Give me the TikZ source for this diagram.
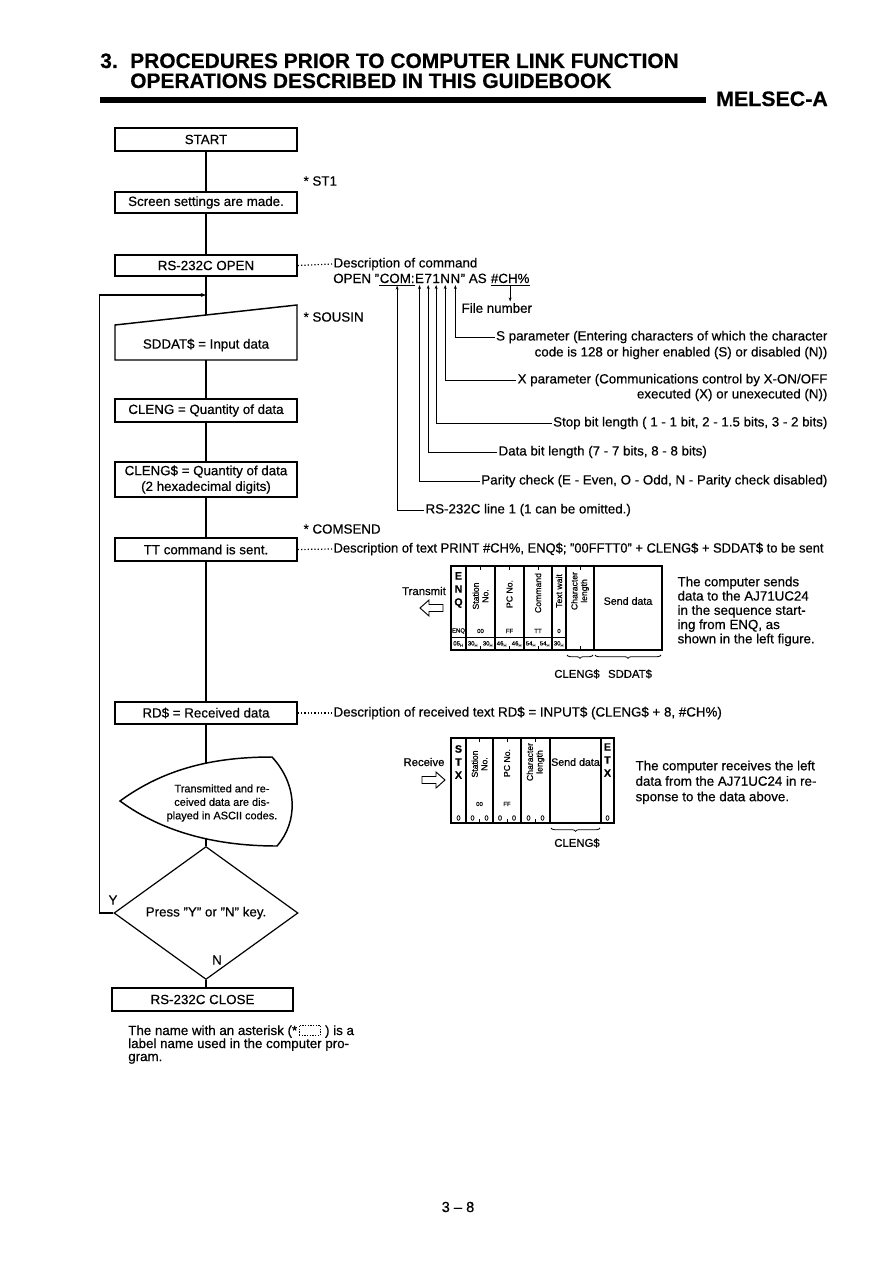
\documentclass[tikz,border=0pt]{standalone}
\usepackage{fontspec}
\setmainfont{Liberation Sans}[FakeBold=0.5]
\usetikzlibrary{arrows.meta, positioning, shapes.geometric, decorations.pathreplacing, calc}

\newcommand{\ftitle}{\fontsize{15.7}{18}\selectfont\bfseries}
\newcommand{\ften}{\fontsize{10}{12}\selectfont}
\newcommand{\fmid}{\fontsize{8.5}{10.1}\selectfont}
\newcommand{\fsm}{\fontsize{6.5}{7.2}\selectfont}
\newcommand{\fxs}{\fontsize{4.5}{5}\selectfont}
\newcommand{\dq}{\symbol{34}}

\tikzset{
  flowbox/.style={draw, line width=1.1pt, minimum width=136.5pt, inner sep=1pt, align=center, font=\ften},
  flowline/.style={line width=0.8pt},
  joinarrow/.style={line width=0.8pt, -{Stealth[length=4pt,width=3pt]}},
  leader/.style={line width=0.9pt, dash pattern=on 0.9pt off 1.6pt},
  txt/.style={inner sep=1pt, font=\ften},
  strpart/.style={inner sep=0pt, anchor=base west, font=\ften},
  notepart/.style={inner sep=0pt, anchor=base west, font=\ften},
  pick/.style={line width=0.6pt, -{Stealth[length=3pt,width=2.2pt]}},
  cell/.style={line width=0.8pt},
  tick/.style={line width=0.5pt},
  vlabel/.style={rotate=90, inner sep=0pt, align=center, font=\fsm},
  stack/.style={inner sep=0pt, align=center, font=\fontsize{8}{9.8}\selectfont\bfseries},
  tinylbl/.style={inner sep=0pt, font=\fxs},
  brc/.style={decorate, decoration={brace, mirror, amplitude=2.5pt}, line width=0.6pt},
}

\begin{document}
\begin{tikzpicture}[x=0.75pt, y=-0.75pt]
  \fill[white] (0,0) rectangle (893,1263);
  \useasboundingbox (0,0) rectangle (893,1263);

  % --- Page heading ---
  \node[anchor=base west, inner sep=0pt] (secno) at (100,68) {\ftitle 3.};
  \node[anchor=base west, inner sep=0pt] (title1) at (130,68) {\ftitle PROCEDURES PRIOR TO COMPUTER LINK FUNCTION};
  \node[anchor=base west, inner sep=0pt] (title2) at (130,88) {\ftitle OPERATIONS DESCRIBED IN THIS GUIDEBOOK};
  \fill (100,96.5) rectangle (706,103);
  \node[anchor=base west, inner sep=0pt] (melsec) at (716,106) {\ftitle\scalebox{1.02}[1]{MELSEC-A}};

  % --- Flowchart ---
  \node[flowbox, minimum height=17.25pt] (start) at (206,139.5) {START};
  \node[flowbox, minimum height=15.75pt] (screen) at (206,202.5) {Screen settings are made.};
  \node[flowbox, minimum height=15.75pt] (open) at (206,265.5) {RS-232C OPEN};

  % manual input
  \draw[line width=1.1pt] (115,325) -- (297,305) -- (297,360) -- (115,360) -- cycle;
  \node[txt] (input) at (206,345) {SDDAT\$ = Input data};
  \coordinate (intop) at (206,315);
  \coordinate (inbot) at (206,360);
  \coordinate (join) at (206,295);

  \node[flowbox, minimum height=17.25pt] (cleng) at (206,410.5) {CLENG = Quantity of data};
  \node[flowbox, minimum height=26pt, font=\fontsize{10}{11.8}\selectfont] (clengs) at (206,479.5) {CLENG\$ = Quantity of data\\(2 hexadecimal digits)};
  \node[flowbox, minimum height=17.25pt] (tt) at (206,549.5) {TT command is sent.};
  \node[flowbox, minimum height=16.5pt] (rd) at (206,713) {RD\$ = Received data};

  % display
  \draw[line width=1.1pt] (120,801) .. controls (165,768) and (215,757) .. (272,757)
    .. controls (298,785) and (298,822) .. (277,846)
    .. controls (220,846) and (165,834) .. (120,801) -- cycle;
  \node[font=\fontsize{8.2}{10.1}\selectfont, align=center, inner sep=0pt] (disp) at (222,803) {Transmitted and re-\\ceived data are dis-\\played in ASCII codes.};
  \coordinate (disptop) at (206,763);
  \coordinate (dispbot) at (206,839);

  \node[draw, diamond, line width=0.9pt, minimum width=138pt, minimum height=45pt, inner sep=0pt, font=\ften] (dec) at (206,913) {Press \dq Y\dq{} or \dq N\dq{} key.};
  \node[flowbox, minimum height=17.25pt, minimum width=135.75pt] (close) at (202.5,999.5) {RS-232C CLOSE};
  \node[txt] (lblY) at (113,900) {Y};
  \node[txt] (lblN) at (217,960) {N};

  \draw[flowline] (start) -- (screen);
  \draw[flowline] (screen) -- (open);
  \draw[flowline] (open) -- (intop);
  \draw[flowline] (inbot) -- (cleng);
  \draw[flowline] (cleng) -- (clengs);
  \draw[flowline] (clengs) -- (tt);
  \draw[flowline] (tt) -- (rd);
  \draw[flowline] (rd) -- (disptop);
  \draw[flowline] (dispbot) -- (dec);
  \draw[flowline] (dec.south) -- (dec.south |- close.north);
  \draw[joinarrow] (dec.west) -- ++(-14,0) |- (join);

  % label names
  \node[txt, anchor=west] (st1) at (302,181) {* ST1};
  \node[txt, anchor=west] (sousin) at (302,317) {* SOUSIN};
  \node[txt, anchor=west] (comsend) at (302,529) {* COMSEND};

  % --- OPEN command ---
  \node[txt, anchor=west] (desccmd) at (332,264) {Description of command};
  \draw[leader] (open.east) -- (desccmd.west);
  \node[strpart] (opena) at (333,283) {OPEN \dq};
  \node[strpart] (com) at (opena.base east) {COM:};
  \node[strpart] (chE) at (com.base east) {E};
  \node[strpart] (ch7) at (chE.base east) {7};
  \node[strpart] (ch1) at (ch7.base east) {1};
  \node[strpart] (chNx) at (ch1.base east) {N};
  \node[strpart] (chNs) at (chNx.base east) {N};
  \node[strpart] (openb) at (chNs.base east) {\dq{} AS};
  \node[strpart] (chnum) at ([xshift=2.8pt]openb.base east) {\#CH\%};
  \draw[line width=0.6pt] ([yshift=-1.5pt]com.base west) -- ([yshift=-1.5pt]com.base east);
  \draw[line width=0.6pt] ([yshift=-1.5pt]chnum.base west) -- ([yshift=-1.5pt]chnum.base east);

  \node[txt, anchor=west] (filenum) at (460,308) {File number};
  \node[txt, anchor=east] (sparam) at (829,337) {S parameter (Entering characters of which the character};
  \node[txt, anchor=east] (sparamb) at (829,353) {code is 128 or higher enabled (S) or disabled (N))};
  \node[txt, anchor=east] (xparam) at (829,380) {X parameter (Communications control by X-ON/OFF};
  \node[txt, anchor=east] (xparamb) at (829,395) {executed (X) or unexecuted (N))};
  \node[txt, anchor=east] (stopbit) at (829,423) {Stop bit length ( 1 - 1 bit, 2 - 1.5 bits, 3 - 2 bits)};
  \node[txt, anchor=west] (databit) at (497,452) {Data bit length (7 - 7 bits, 8 - 8 bits)};
  \node[txt, anchor=east] (parity) at (829,481) {Parity check (E - Even, O - Odd, N - Parity check disabled)};
  \node[txt, anchor=west] (rsline) at (424,510) {RS-232C line 1 (1 can be omitted.)};

  \draw[pick] ([yshift=-2pt]chnum.base) -- (chnum.base |- filenum.north);
  \draw[pick] (sparam.west) -| ([yshift=-1.5pt]chNs.base);
  \draw[pick] (xparam.west) -| ([yshift=-1.5pt]chNx.base);
  \draw[pick] (stopbit.west) -| ([yshift=-1.5pt]ch1.base);
  \draw[pick] (databit.west) -| ([yshift=-1.5pt]ch7.base);
  \draw[pick] (parity.west) -| ([yshift=-1.5pt]chE.base);
  \draw[pick] (rsline.west) -| ([yshift=-2pt]com.base);

  % --- TT command ---
  \node[txt, anchor=west] (desctext) at (332,549) {\scalebox{0.97}[1]{Description of text PRINT \#CH\%, ENQ\$; \dq 00FFTT0\dq{} + CLENG\$ + SDDAT\$ to be sent}};
  \draw[leader] (tt.east) -- (desctext.west);

  % transmit frame
  \node[font=\fmid, inner sep=0pt] (txlbl) at (424,591) {Transmit};
  \draw[line width=0.7pt] (420,608) -- (429,600) -- (429,604.5) -- (443,604.5) -- (443,611.5) -- (429,611.5) -- (429,616) -- cycle;
  \draw[cell] (451,566) rectangle (662,650);
  \foreach \xx in {466,495,524,552,566,594} \draw[cell] (\xx,566) -- (\xx,650);
  \draw[tick] (451,637) -- (566,637);
  \foreach \xx in {480.5,509.5,538,580} {
    \draw[tick] (\xx,566) -- (\xx,570);
    \draw[tick] (\xx,650) -- (\xx,646);
  }
  \node[stack] (txenq) at (458.5,590) {E\\N\\Q};
  \node[vlabel] (txstn) at (480.5,596) {Station\\No.};
  \node[vlabel] (txpc) at (509.5,594) {PC No.};
  \node[vlabel] (txcmd) at (538,593) {Command};
  \node[vlabel] (txwait) at (559,591) {Text wait};
  \node[vlabel] (txlen) at (580,591) {Character\\length};
  \node[font=\fontsize{8}{9}\selectfont, inner sep=0pt] (txsend) at (628,601) {Send data};
  \foreach \xx/\lbl [count=\i] in {458.5/ENQ, 480.5/00, 509.5/FF, 538/TT, 559/0}
    \node[tinylbl] (txl\i) at (\xx,631) {\lbl};
  \foreach \xx/\lbl [count=\i] in {458.5/05, 473/30, 488/30, 502/46, 517/46, 531/54, 545/54, 559/30}
    \node[tinylbl] (txh\i) at (\xx,644) {\lbl\textsubscript{H}};
  \draw[brc] (567,655) -- (593,655);
  \draw[brc] (595,655) -- (661,655);
  \node[font=\fmid, inner sep=0pt] (txclen) at (577,674) {CLENG\$};
  \node[font=\fmid, inner sep=0pt] (txsdd) at (630,674) {SDDAT\$};
  \node[txt, anchor=north west, align=left, font=\fontsize{10}{10.7}\selectfont] (txnote) at (676,575) {The computer sends\\data to the AJ71UC24\\in the sequence start-\\ing from ENQ, as\\shown in the left figure.};

  % --- RD$ ---
  \node[txt, anchor=west] (descrecv) at (332,713) {Description of received text RD\$ = INPUT\$ (CLENG\$ + 8, \#CH\%)};
  \draw[leader] (rd.east) -- (descrecv.west);

  % receive frame
  \node[font=\fmid, inner sep=0pt] (rxlbl) at (424,762) {Receive};
  \draw[line width=0.7pt] (445,780) -- (436,772) -- (436,776.5) -- (422,776.5) -- (422,783.5) -- (436,783.5) -- (436,788) -- cycle;
  \draw[cell] (451,738) rectangle (614,823);
  \foreach \xx in {466,493,521,550,601} \draw[cell] (\xx,738) -- (\xx,823);
  \foreach \xx in {479.5,507,535.5} {
    \draw[tick] (\xx,738) -- (\xx,742);
    \draw[tick] (\xx,823) -- (\xx,819);
  }
  \node[stack] (rxstx) at (458.5,762) {S\\T\\X};
  \node[vlabel] (rxstn) at (479.5,764) {Station\\No.};
  \node[vlabel] (rxpc) at (507,763) {PC No.};
  \node[vlabel] (rxlen) at (535.5,762) {Character\\length};
  \node[font=\fontsize{8}{9}\selectfont, inner sep=0pt] (rxsend) at (575.5,762) {Send data};
  \node[stack] (rxetx) at (607.5,760) {E\\T\\X};
  \node[tinylbl] (rxl1) at (479.5,804) {00};
  \node[tinylbl] (rxl2) at (507,804) {FF};
  \foreach \xx [count=\i] in {458.5,472.5,486.5,500,514,528.5,542.5,607.5}
    \node[tinylbl, font=\fontsize{5.5}{6}\selectfont] (rxh\i) at (\xx,818) {0};
  \draw[brc] (551,828) -- (600,828);
  \node[font=\fmid, inner sep=0pt] (rxclen) at (577,843) {CLENG\$};
  \node[txt, anchor=north west, align=left, font=\fontsize{10}{11.6}\selectfont] (rxnote) at (634,759) {The computer receives the left\\data from the AJ71UC24 in re-\\sponse to the data above.};

  % --- Footnote ---
  \node[notepart] (notea) at (128,1035) {The name with an asterisk (*};
  \node[draw, line width=0.5pt, dash pattern=on 1pt off 1pt, minimum width=16pt, minimum height=7.5pt, inner sep=0pt, anchor=south west] (notebox) at ([xshift=1pt,yshift=-0.5pt]notea.base east) {};
  \node[notepart] (noteb) at ([xshift=3pt]notebox.south east |- notea.base) {) is a};
  \node[notepart] (notec) at (128,1048) {label name used in the computer pro-};
  \node[notepart] (noted) at (128,1061) {gram.};

  \node[font=\fontsize{11}{13}\selectfont, inner sep=0pt] (pageno) at (458,1207) {3 -- 8};
\end{tikzpicture}
\end{document}
